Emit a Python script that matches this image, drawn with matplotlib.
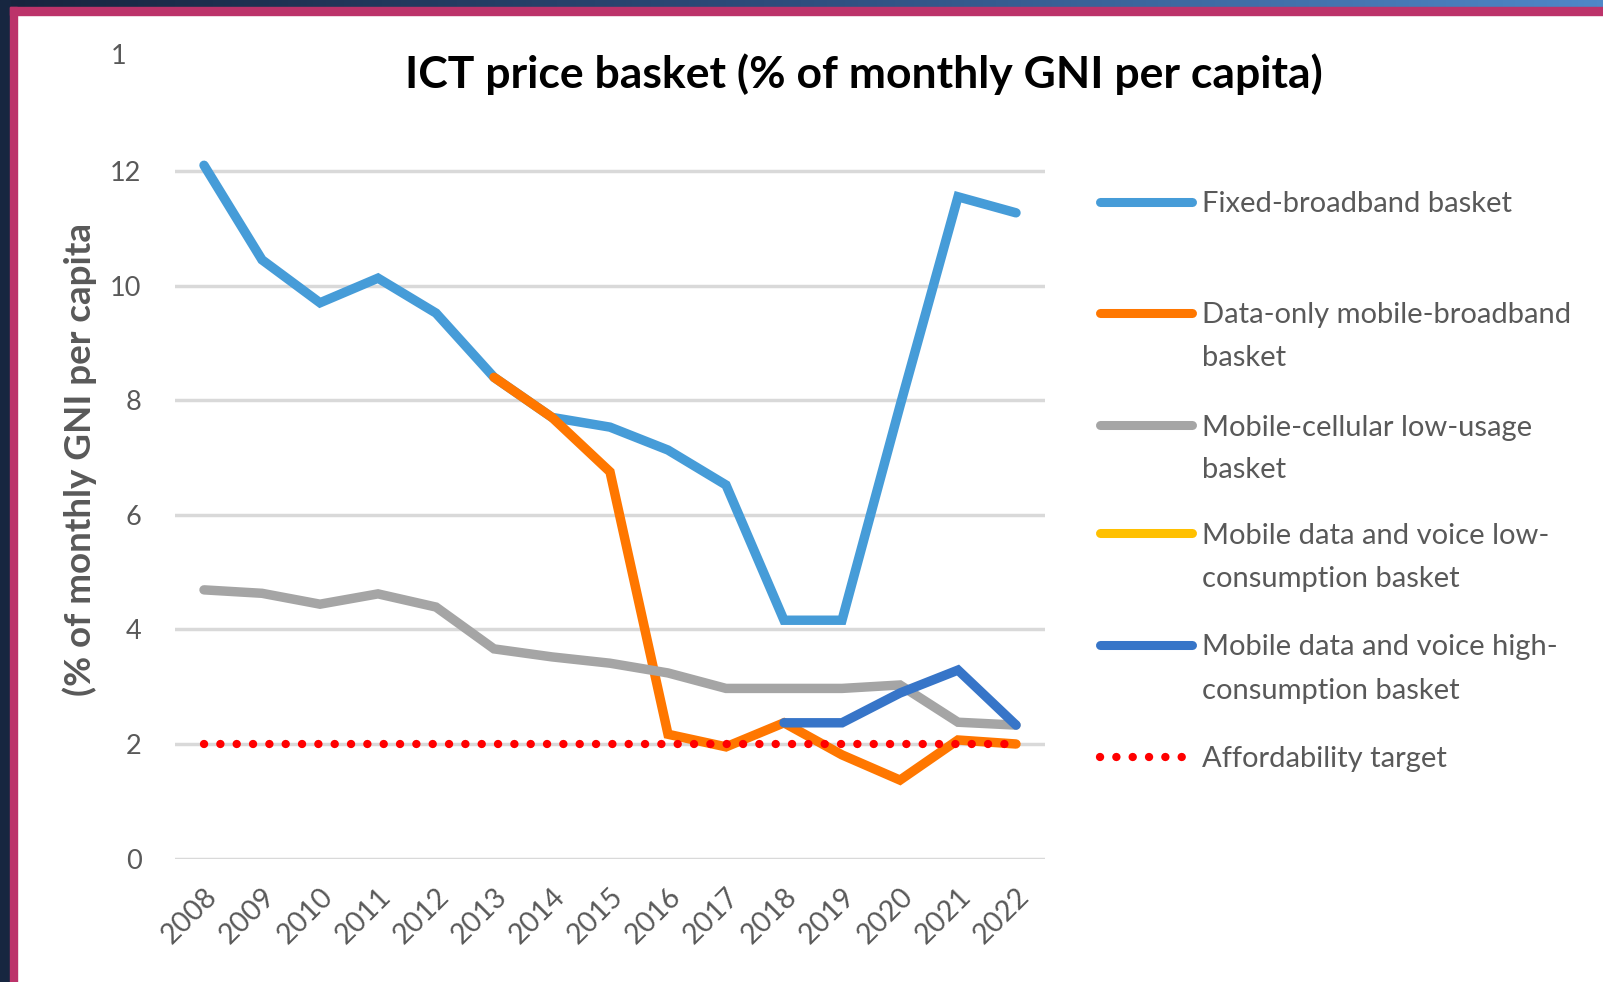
import numpy as np
import matplotlib
matplotlib.use("Agg")
import matplotlib.pyplot as plt
from matplotlib.lines import Line2D
from matplotlib.patches import Rectangle

plt.rcParams["font.family"] = ["Lato", "DejaVu Sans"]

years = ["2008", "2009", "2010", "2011", "2012", "2013", "2014", "2015",
         "2016", "2017", "2018", "2019", "2020", "2021", "2022"]

fixed_bb = [12.1, 10.45, 9.7, 10.13, 9.52, 8.4, 7.7, 7.53, 7.13, 6.52,
            4.16, 4.16, 7.9, 11.55, 11.27]
data_only = [None, None, None, None, None, 8.4, 7.7, 6.75, 2.17, 1.95,
             2.37, 1.81, 1.37, 2.07, 2.0]
cellular_low = [4.69, 4.63, 4.44, 4.62, 4.39, 3.66, 3.52, 3.41, 3.24, 2.97,
                2.97, 2.97, 3.03, 2.38, 2.33]
dv_low = [None] * 15
dv_high = [None, None, None, None, None, None, None, None, None, None,
           2.37, 2.37, 2.89, 3.29, 2.33]
target = [2] * 15

labels = ["Fixed-broadband basket",
          "Data-only mobile-broadband\nbasket",
          "Mobile-cellular low-usage\nbasket",
          "Mobile data and voice low-\nconsumption basket",
          "Mobile data and voice high-\nconsumption basket",
          "Affordability target"]
colors = ["#469CD8", "#FF7700", "#A5A5A5", "#FFC000", "#3775C8", "#FF0000"]

W, H = 1603, 982
fig = plt.figure(figsize=(W / 100, H / 100), dpi=100)


def px(x, y):
    return x / W, 1 - y / H


# frame around the slide
grad = np.linspace(0, 1, 256).reshape(1, -1)
band = fig.add_axes([0, 1 - 7 / H, 1, 7 / H])
band.imshow(grad, aspect="auto", extent=(0, 1, 0, 1),
            cmap=matplotlib.colors.LinearSegmentedColormap.from_list(
                "b", ["#17243D", "#2E4E7E", "#4F88C8"]))
band.axis("off")
fig.patches.append(Rectangle((0, 0), 10 / W, 1, transform=fig.transFigure,
                             color="#172640", zorder=0))
fig.patches.append(Rectangle(px(10, 15), (W - 10) / W, 8 / H,
                             transform=fig.transFigure, color="#BC336A", zorder=1))
fig.patches.append(Rectangle((10 / W, 0), 7 / W, 1 - 7 / H,
                             transform=fig.transFigure, color="#BC336A", zorder=1))

ax = fig.add_axes([175 / W, (H - 858.6) / H, 870 / W, 802.2 / H])
x = np.arange(len(years))
series = [fixed_bb, data_only, cellular_low, dv_low, dv_high]
for vals, c in zip(series, colors[:5]):
    v = np.array([np.nan if a is None else a for a in vals], dtype=float)
    ax.plot(x, v, color=c, lw=6.8, solid_capstyle="round",
            solid_joinstyle="miter")
ax.plot(x, target, color=colors[5], lw=6, linestyle=(0, (0.01, 1.95)),
        dash_capstyle="round")

ax.set_xlim(-0.5, 14.5)
ax.set_ylim(0, 14)
ax.set_yticks(range(0, 13, 2))
ax.set_xticks(x)
ax.set_xticklabels(years, rotation=45, ha="right", rotation_mode="anchor")
ax.grid(axis="y", color="#D9D9D9", lw=2.5)
ax.set_axisbelow(True)
for s in ax.spines.values():
    s.set_visible(False)
ax.tick_params(axis="y", length=0, pad=24, labelsize=19.5, labelcolor="#595959")
ax.tick_params(axis="x", length=0, pad=18, labelsize=20.5, labelcolor="#595959")
ax.annotate("1", xy=(0, 14), xycoords=("axes fraction", "data"),
            xytext=(-35, 0), textcoords="offset points", ha="right",
            va="center", fontsize=19.5, color="#595959")

fig.text(*px(864, 74), "ICT price basket (% of monthly GNI per capita)",
         ha="center", va="center", fontsize=32, fontweight="bold",
         color="black")
fig.text(*px(80, 460), "(% of monthly GNI per capita", rotation=90,
         ha="center", va="center", fontsize=26.5, fontweight="bold",
         color="#595959")

# legend
leg_y = [202, 313, 425, 533, 645, 757]
for i, (lab, c, yy) in enumerate(zip(labels, colors, leg_y)):
    if i < 5:
        fig.add_artist(Line2D([1100 / W, 1192 / W], [1 - yy / H] * 2,
                              color=c, lw=6.5, solid_capstyle="round"))
    else:
        fig.add_artist(Line2D([1100 / W, 1187 / W], [1 - yy / H] * 2,
                              color=c, lw=6, linestyle=(0, (0.01, 1.95)),
                              dash_capstyle="round"))
    for j, line in enumerate(lab.split("\n")):
        fig.text(*px(1202, yy + 10.5 + 43 * j), line, ha="left",
                 va="baseline", fontsize=21, color="#595959")

fig.savefig("out.png", dpi=100, facecolor="white")
